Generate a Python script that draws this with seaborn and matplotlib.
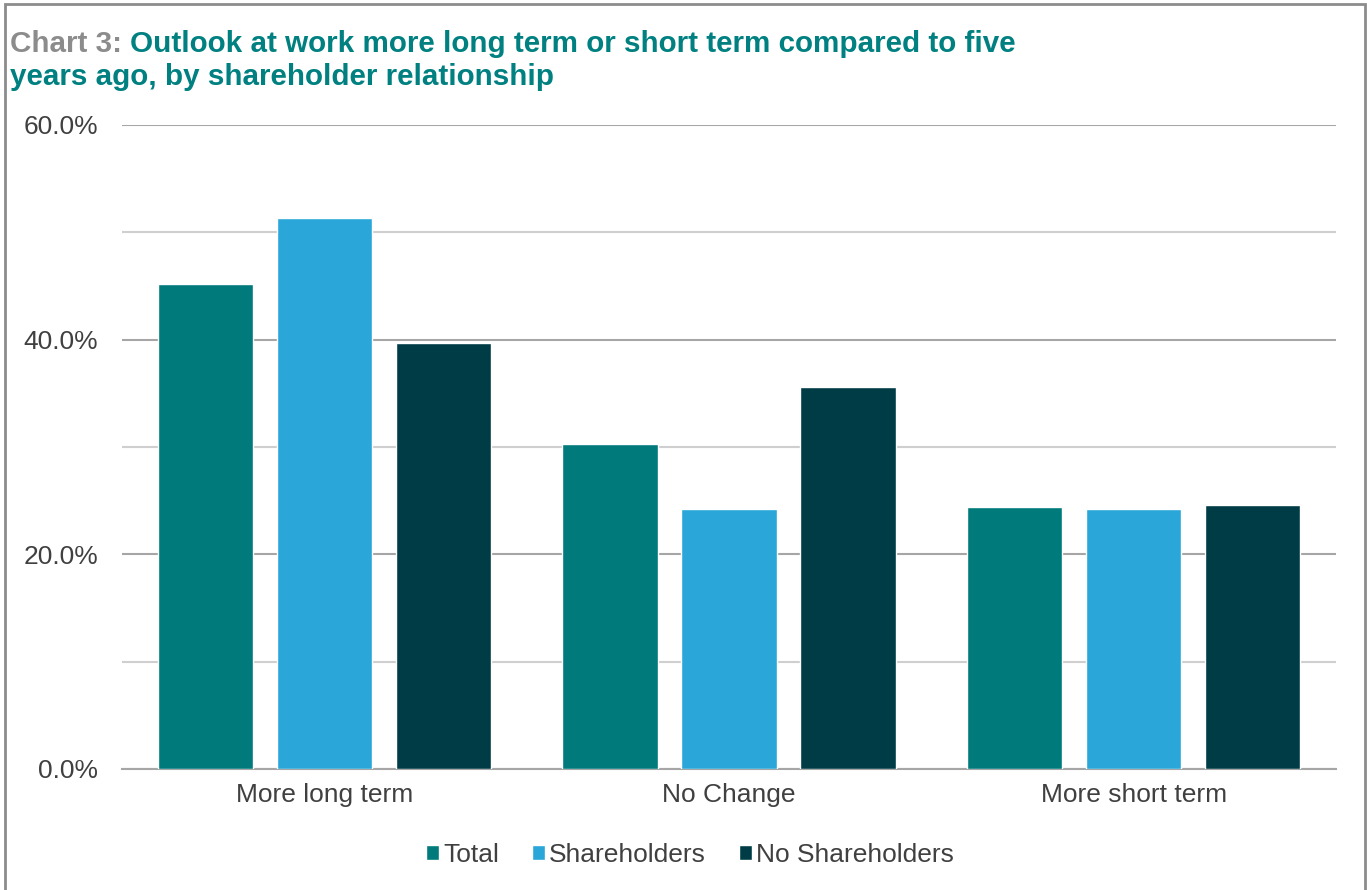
import pandas as pd
import matplotlib.pyplot as plt
import seaborn as sns
from matplotlib.patches import Rectangle
from matplotlib.ticker import MultipleLocator, FuncFormatter

categories = ["More long term", "No Change", "More short term"]
groups = ["Total", "Shareholders", "No Shareholders"]
total = [45.2, 30.3, 24.4]
shareholders = [51.3, 24.2, 24.2]
no_shareholders = [39.7, 35.6, 24.6]

colors = ["#007A7A", "#2AA7D8", "#003C45"]

df = pd.DataFrame({
    "category": categories * 3,
    "group": [g for g in groups for _ in categories],
    "value": total + shareholders + no_shareholders,
})

sns.set_style("white")
plt.rcParams["font.family"] = ["Liberation Sans", "DejaVu Sans"]

fig = plt.figure(figsize=(13.67, 8.9), dpi=100)
ax = fig.add_axes([0.0892, 0.1360, 0.8881, 0.7236])

sns.barplot(data=df, x="category", y="value", hue="group", order=categories,
            hue_order=groups, palette=colors, width=0.882, gap=0.2,
            saturation=1, ax=ax, zorder=3, legend=True)

ax.set_xlim(-0.5, 2.5)
ax.set_ylim(0, 60)
ax.yaxis.set_major_locator(MultipleLocator(20))
ax.yaxis.set_minor_locator(MultipleLocator(10))
ax.yaxis.set_major_formatter(FuncFormatter(lambda v, p: f"{v:.1f}%"))
ax.grid(axis="y", which="major", color="#A6A6A6", linewidth=1.5, zorder=0)
ax.grid(axis="y", which="minor", color="#CFCFCF", linewidth=1.5, zorder=0)
ax.grid(axis="x", visible=False)
ax.set_axisbelow(True)
for s in ["top", "right", "left"]:
    ax.spines[s].set_visible(False)
ax.spines["bottom"].set_color("#A6A6A6")
ax.spines["bottom"].set_linewidth(1.5)
ax.tick_params(axis="both", length=0, labelsize=19, colors="#404040", pad=10)
ax.tick_params(axis="y", pad=17)
ax.set_xlabel("")
ax.set_ylabel("")

handles, labels = ax.get_legend_handles_labels()
ax.legend(handles, labels, loc="center", bbox_to_anchor=(0.468, -0.133), ncol=3,
          frameon=False, fontsize=19, handlelength=0.5, handleheight=0.5,
          handletextpad=0.15, columnspacing=1.25, labelcolor="#404040")

# title in two colours
t1 = fig.text(10 / 1367, 1 - 52 / 890, "Chart 3: ", fontsize=21.3, fontweight="bold",
              color="#8C8C8C", va="baseline", ha="left")
fig.canvas.draw()
ax.annotate("Outlook at work more long term or short term compared to five",
            xy=(1, 0), xycoords=t1, va="bottom", ha="left", fontsize=21.3,
            fontweight="bold", color="#008080", annotation_clip=False)
fig.text(10 / 1367, 1 - 85 / 890, "years ago, by shareholder relationship", fontsize=21.3,
         fontweight="bold", color="#008080", va="baseline", ha="left")

# outer chart border
fig.patches.append(Rectangle((5 / 1367, -0.05), 1360 / 1367, 1.05 - 4 / 890,
                             transform=fig.transFigure, fill=False,
                             edgecolor="#8C8C8C", linewidth=2))

fig.savefig("out.png", dpi=100)
